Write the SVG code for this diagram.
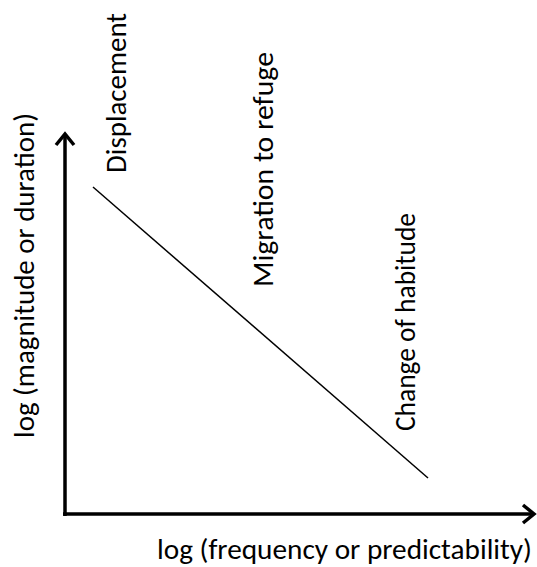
<svg xmlns="http://www.w3.org/2000/svg" width="537" height="567" viewBox="0 0 537 567">
<style>
.lbl{font-family:"Carlito","Lato","Open Sans",sans-serif;font-size:28px;fill:#000}
.axis{stroke:#000;stroke-width:3.5;fill:none}
.head{stroke:#000;stroke-width:3.5;fill:none;stroke-linejoin:miter;stroke-linecap:butt}
.trend{stroke:#000;stroke-width:1.5}
</style>
<rect width="537" height="567" fill="#fff"/>
<g id="connectors">
<line class="axis" x1="65" y1="516" x2="65" y2="135"/>
<polyline class="head" points="56,145 65,134 74,145"/>
<line class="axis" x1="63" y1="514" x2="533" y2="514"/>
<polyline class="head" points="523,505 534,514 523,523"/>
<line class="trend" x1="93" y1="187" x2="428" y2="478"/>
</g>
<g id="y-label"><text class="lbl" transform="translate(34,438) rotate(-90)" textLength="325" lengthAdjust="spacingAndGlyphs">log (magnitude or duration)</text></g>
<g id="x-label"><text class="lbl" x="157" y="559" font-size="27" textLength="375" lengthAdjust="spacingAndGlyphs">log (frequency or predictability)</text></g>
<g id="displacement"><text class="lbl" transform="translate(126,173) rotate(-90)" textLength="160" lengthAdjust="spacingAndGlyphs">Displacement</text></g>
<g id="migration"><text class="lbl" transform="translate(273,287) rotate(-90)" textLength="235" lengthAdjust="spacingAndGlyphs">Migration to refuge</text></g>
<g id="habitude"><text class="lbl" transform="translate(415,431) rotate(-90)" textLength="218" lengthAdjust="spacingAndGlyphs">Change of habitude</text></g>
</svg>
